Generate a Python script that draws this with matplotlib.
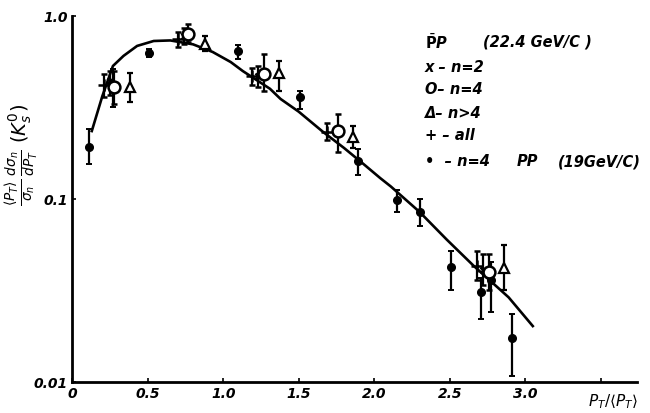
import matplotlib
matplotlib.use("Agg")
import matplotlib.pyplot as plt
import numpy as np

# ---- data ----
# pp 19 GeV/c, n=4 (filled dots)
dot_x  = [0.11, 0.27, 0.51, 1.10, 1.51, 1.89, 2.15, 2.30, 2.51, 2.71, 2.77, 2.91]
dot_y  = [0.192, 0.40, 0.63, 0.64, 0.36, 0.161, 0.099, 0.085, 0.0425, 0.031, 0.036, 0.0174]
dot_lo = [0.155, 0.32, 0.60, 0.58, 0.31, 0.135, 0.085, 0.071, 0.032, 0.022, 0.024, 0.0108]
dot_hi = [0.241, 0.51, 0.66, 0.69, 0.39, 0.188, 0.112, 0.100, 0.052, 0.037, 0.045, 0.0236]

# pbar p 22.4 GeV/c
all_x  = [0.21, 0.70, 1.19, 1.69, 2.68]          # '+'  all
all_y  = [0.42, 0.75, 0.47, 0.232, 0.043]
all_lo = [0.36, 0.68, 0.42, 0.21, 0.036]
all_hi = [0.48, 0.82, 0.52, 0.26, 0.052]

n2_x   = [0.25, 0.74, 1.23, 2.72]                 # 'x'  n=2
n2_y   = [0.44, 0.78, 0.47, 0.041]
n2_lo  = [0.37, 0.70, 0.41, 0.034]
n2_hi  = [0.50, 0.86, 0.53, 0.050]

n4_x   = [0.28, 0.77, 1.27, 1.76, 2.76]           # 'O'  n=4
n4_y   = [0.41, 0.80, 0.48, 0.235, 0.040]
n4_lo  = [0.33, 0.72, 0.39, 0.18, 0.032]
n4_hi  = [0.50, 0.90, 0.62, 0.29, 0.050]

ng4_x  = [0.38, 0.88, 1.37, 1.86, 2.86]           # triangle n>4
ng4_y  = [0.41, 0.70, 0.49, 0.218, 0.042]
ng4_lo = [0.34, 0.64, 0.39, 0.19, 0.032]
ng4_hi = [0.49, 0.78, 0.57, 0.25, 0.056]

# fitted curve, points
curve_x = [0.13, 0.20, 0.27, 0.34, 0.43, 0.54, 0.65, 0.80, 0.93, 1.05, 1.13, 1.31,
           1.38, 1.50, 1.66, 1.80, 1.93, 2.04, 2.11, 2.30, 2.48, 2.66, 2.89, 3.05]
curve_y = [0.235, 0.365, 0.533, 0.605, 0.686, 0.730, 0.735, 0.70, 0.636, 0.56, 0.50, 0.40,
           0.352, 0.30, 0.233, 0.19, 0.155, 0.130, 0.117, 0.085, 0.060, 0.043, 0.029, 0.0202]

xticks = [0, 0.5, 1.0, 1.5, 2.0, 2.5, 3.0, 3.5]
xticklabels = ["0", "0.5", "1.0", "1.5", "2.0", "2.5", "3.0", ""]
yticks = [0.01, 0.1, 1.0]
yticklabels = ["0.01", "0.1", "1.0"]

fig = plt.figure(figsize=(6.5, 4.14), dpi=100)
ax = fig.add_axes([0.111, 0.075, 0.869, 0.884])

ax.plot(curve_x, curve_y, color="black", lw=1.9, zorder=2)

def eb(x, y, lo, hi, **kw):
    y = np.array(y); lo = np.array(lo); hi = np.array(hi)
    ax.errorbar(x, y, yerr=[y - lo, hi - y], fmt=kw.pop("fmt"), color="black",
                ecolor="black", elinewidth=1.6, capsize=2, capthick=1.4, zorder=3, **kw)

eb(dot_x, dot_y, dot_lo, dot_hi, fmt="o", ms=5.5)
eb(all_x, all_y, all_lo, all_hi, fmt="+", ms=8, mew=1.8)
eb(n2_x, n2_y, n2_lo, n2_hi, fmt="x", ms=5, mew=1.8)
eb(n4_x, n4_y, n4_lo, n4_hi, fmt="o", ms=8.5, mfc="white", mec="black", mew=1.8)
eb(ng4_x, ng4_y, ng4_lo, ng4_hi, fmt="^", ms=7, mfc="white", mec="black", mew=1.6)

ax.set_yscale("log")
ax.set_xlim(0, 3.74)
ax.set_ylim(0.01, 1.0)
ax.spines["top"].set_visible(False)
ax.spines["right"].set_visible(False)
for s in ("left", "bottom"):
    ax.spines[s].set_linewidth(2.0)

ax.set_xticks(xticks)
ax.set_xticklabels(xticklabels)
ax.set_yticks(yticks)
ax.set_yticklabels(yticklabels)
ax.yaxis.set_minor_locator(matplotlib.ticker.NullLocator())
ax.tick_params(direction="in", length=3, width=1.2, labelsize=10, pad=3)
for lab in ax.get_xticklabels() + ax.get_yticklabels():
    lab.set_fontweight("bold")
    lab.set_fontstyle("italic")

tk = dict(fontsize=10.5, fontweight="bold", fontstyle="italic", color="black")
fig.text(425/650, 1 - 42/414, r"$\bar{\mathbf{P}}$P", va="center", ha="left", **tk)
fig.text(483/650, 1 - 42/414, "(22.4 GeV/C )", va="center", ha="left", **tk)
fig.text(425/650, 1 - 67/414, "x – n=2", va="center", ha="left", **tk)
fig.text(425/650, 1 - 90/414, "O– n=4", va="center", ha="left", **tk)
fig.text(425/650, 1 - 113/414, "Δ– n>4", va="center", ha="left", **tk)
fig.text(425/650, 1 - 135/414, "+ – all", va="center", ha="left", **tk)
fig.text(425/650, 1 - 162/414, "•  – n=4", va="center", ha="left", **tk)
fig.text(517/650, 1 - 162/414, "PP", va="center", ha="left", **tk)
fig.text(558/650, 1 - 162/414, "(19GeV/C)", va="center", ha="left", **tk)

fig.text(22/650, 1 - 155/414,
         r"$\frac{\langle P_T\rangle}{\sigma_n}\,\frac{d\sigma_n}{dP_T}\ (K^0_s)$",
         rotation=90, va="center", ha="center", fontsize=14)
fig.text(588/650, 1 - 402/414, r"$P_T/\langle P_T\rangle$", va="center", ha="left",
         fontsize=11)

fig.savefig("out.png", dpi=100)
